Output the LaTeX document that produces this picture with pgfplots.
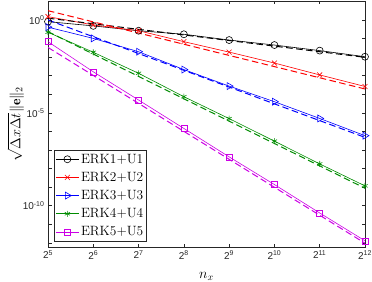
\documentclass[border=0pt]{standalone}
\usepackage{fontspec}
\usepackage{pgfplots}
\pgfplotsset{compat=1.18}
\newfontfamily\helv{Liberation Sans}
\definecolor{mgreen}{rgb}{0,0.55,0}
\definecolor{mmag}{rgb}{0.8,0,0.9}
\definecolor{axc}{rgb}{0.15,0.15,0.15}
\begin{document}
\begin{tikzpicture}
\begin{axis}[
  name=ax,
  scale only axis,
  width=317bp, height=246bp,
  xmode=log, ymode=log, log basis x=2,
  xmin=32, xmax=4096, ymin=6.0e-13, ymax=10.5,
  xtick={32,64,128,256,512,1024,2048,4096},
  xticklabels={2\textsuperscript{5},2\textsuperscript{6},2\textsuperscript{7},2\textsuperscript{8},2\textsuperscript{9},2\textsuperscript{10},2\textsuperscript{11},2\textsuperscript{12}},
  ytick={1,1e-5,1e-10},
  yticklabels={10\textsuperscript{0},10\textsuperscript{-5},10\textsuperscript{-10}},
  minor ytick={10,1e-1,1e-2,1e-3,1e-4,1e-6,1e-7,1e-8,1e-9,1e-11,1e-12},
  xminorticks=false,
  tick pos=both, tick align=inside,
  major tick length=3.5bp, minor tick length=3.5bp,
  every tick/.style={axc, line width=0.5bp},
  axis line style={axc, line width=0.6bp},
  ticklabel style={font=\helv\fontsize{10}{12}\selectfont, text=axc},
  xlabel={$n_x$},
  ylabel={$\sqrt{\Delta x\Delta t}\|\mathbf{e}\|_2$},
  label style={font=\fontsize{14}{16}\selectfont},
  xlabel style={at={(axis description cs:0.5,-0.126)}, anchor=base},
  ylabel style={at={(axis description cs:-0.1025,0.5)}, anchor=center, inner sep=0pt},
  legend style={at={(axis description cs:0,0)}, anchor=south west, xshift=6bp, yshift=6bp,
    font=\fontsize{13.5}{16}\selectfont, draw=axc, line width=0.5bp, inner sep=1.5bp,
    row sep=3.5bp},
  legend cell align=left,
  legend image code/.code={\draw[mark repeat=2,mark phase=2,#1] plot coordinates {(0cm,0cm) (0.4cm,0cm) (0.8cm,0cm)};},
]
% solid numerical errors
\addplot[black, line width=0.6bp, mark=o, mark size=3.5bp, mark options={solid, line width=0.6bp}] coordinates {
(32,0.81) (64,0.48) (128,0.263) (256,0.17) (512,0.083) (1024,0.0447) (2048,0.0224) (4096,0.0105)};
\addlegendentry{ERK1+U1}
\addplot[red, line width=0.6bp, mark=x, mark size=3.5bp, mark options={solid, line width=0.6bp}] coordinates {
(32,1.51) (64,0.54) (128,0.263) (256,0.068) (512,0.0186) (1024,0.0048) (2048,0.0011) (4096,2.63e-4)};
\addlegendentry{ERK2+U2}
\addplot[blue, line width=0.6bp, mark=triangle, mark size=4bp, mark options={solid, line width=0.6bp, rotate=-90}] coordinates {
(32,0.41) (64,0.102) (128,0.0195) (256,0.00214) (512,2.75e-4) (1024,3.98e-5) (2048,5.0e-6) (4096,5.9e-7)};
\addlegendentry{ERK3+U3}
\addplot[mgreen, line width=0.6bp, mark=asterisk, mark size=3bp, mark options={solid, line width=0.6bp}] coordinates {
(32,0.219) (64,0.0182) (128,1.35e-3) (256,7.4e-5) (512,4.9e-6) (1024,3.0e-7) (2048,1.78e-8) (4096,1.17e-9)};
\addlegendentry{ERK4+U4}
\addplot[mmag, line width=0.6bp, mark=square, mark size=3bp, mark options={solid, line width=0.6bp}] coordinates {
(32,0.068) (64,1.62e-3) (128,4.9e-5) (256,1.45e-6) (512,4.27e-8) (1024,1.38e-9) (2048,4.07e-11) (4096,1.29e-12)};
\addlegendentry{ERK5+U5}
% dashed reference slopes
\addplot[forget plot, black, line width=1bp, dash pattern=on 6.5bp off 3.5bp] coordinates {(32,1.25) (4096,0.00977)};
\addplot[forget plot, red, line width=1bp, dash pattern=on 6.5bp off 3.5bp] coordinates {(32,3.16) (4096,1.93e-4)};
\addplot[forget plot, blue, line width=1bp, dash pattern=on 6.5bp off 3.5bp] coordinates {(32,1.0) (4096,4.77e-7)};
\addplot[forget plot, mgreen, line width=1bp, dash pattern=on 6.5bp off 3.5bp] coordinates {(32,0.234) (4096,8.73e-10)};
\addplot[forget plot, mmag, line width=1bp, dash pattern=on 6.5bp off 3.5bp] coordinates {(32,0.0331) (4096,9.6e-13)};
\end{axis}
\pgfresetboundingbox
\path[use as bounding box] ([xshift=-48bp,yshift=-35bp]ax.south west) rectangle ([xshift=7bp,yshift=1bp]ax.north east);
\end{tikzpicture}
\end{document}
